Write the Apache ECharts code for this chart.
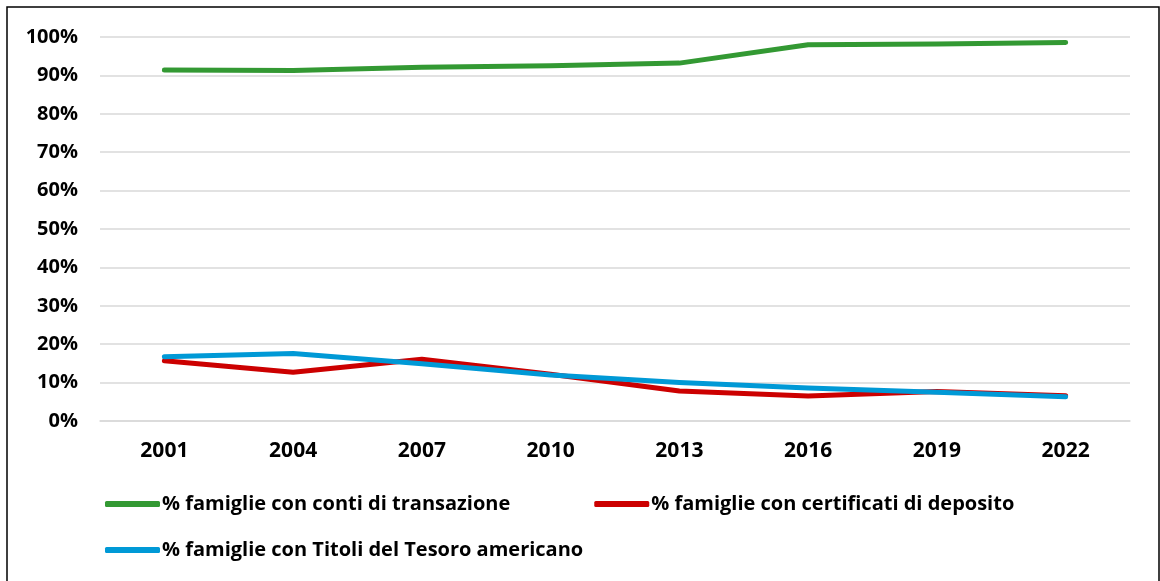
<!DOCTYPE html>
<html>
<head>
<meta charset="utf-8">
<script src="https://cdn.jsdelivr.net/npm/echarts@6/dist/echarts.min.js"></script>
<style>
  html, body { margin: 0; padding: 0; background: #fff; }
  #chart { width: 1160px; height: 581px; }
</style>
</head>
<body>
<div id="chart"></div>
<script>
// Survey years
const years = ['2001', '2004', '2007', '2010', '2013', '2016', '2019', '2022'];

// Share of households holding each asset (%)
const contiTransazione = [91.4, 91.3, 92.1, 92.5, 93.2, 98.0, 98.2, 98.6];
const certificatiDeposito = [15.7, 12.7, 16.1, 12.2, 7.8, 6.5, 7.7, 6.6];
const titoliTesoro = [16.7, 17.6, 14.9, 12.0, 10.0, 8.6, 7.5, 6.3];

const seriesNames = [
  '% famiglie con conti di transazione',
  '% famiglie con certificati di deposito',
  '% famiglie con Titoli del Tesoro americano'
];
const colors = ['#339933', '#cc0000', '#0099d6'];

const FONT = '"Open Sans", "Liberation Sans", sans-serif';

const chart = echarts.init(document.getElementById('chart'), null, { renderer: 'canvas' });

const legendText = {
  fontFamily: FONT, fontWeight: 'bold', fontSize: 20, color: '#000',
  padding: [0, 0, 0, -3]
};

chart.setOption({
  animation: false,
  backgroundColor: '#fff',
  color: colors,
  graphic: [{
    type: 'rect',
    shape: { x: 7, y: 7, width: 1152, height: 590 },
    style: { fill: 'none', stroke: '#000', lineWidth: 1.5 },
    silent: true
  }],
  grid: { left: 100, right: 30, top: 37, bottom: 160, containLabel: false },
  legend: [{
    data: [seriesNames[0], seriesNames[1]],
    left: 100, top: 489,
    icon: 'roundRect', itemWidth: 55, itemHeight: 6, itemGap: 84,
    textStyle: legendText
  }, {
    data: [seriesNames[2]],
    left: 100, top: 535,
    icon: 'roundRect', itemWidth: 55, itemHeight: 6,
    textStyle: legendText
  }],
  xAxis: {
    type: 'category',
    data: years,
    boundaryGap: true,
    axisLine: { show: true, lineStyle: { color: '#d9d9d9', width: 1.5 } },
    axisTick: { show: false },
    axisLabel: { margin: 20, fontFamily: FONT, fontWeight: 'bold', fontSize: 21, color: '#000' }
  },
  yAxis: {
    type: 'value',
    min: 0, max: 100, interval: 10,
    axisLine: { show: false },
    axisTick: { show: false },
    splitLine: { lineStyle: { color: '#d9d9d9', width: 1.5 } },
    axisLabel: {
      margin: 22, fontFamily: FONT, fontWeight: 'bold', fontSize: 20, color: '#000',
      formatter: v => v + '%'
    }
  },
  series: [
    { name: seriesNames[0], type: 'line', data: contiTransazione, showSymbol: false, lineStyle: { width: 5, cap: 'round', join: 'round' } },
    { name: seriesNames[1], type: 'line', data: certificatiDeposito, showSymbol: false, lineStyle: { width: 5, cap: 'round', join: 'round' } },
    { name: seriesNames[2], type: 'line', data: titoliTesoro, showSymbol: false, lineStyle: { width: 5, cap: 'round', join: 'round' } }
  ]
});
</script>
</body>
</html>
